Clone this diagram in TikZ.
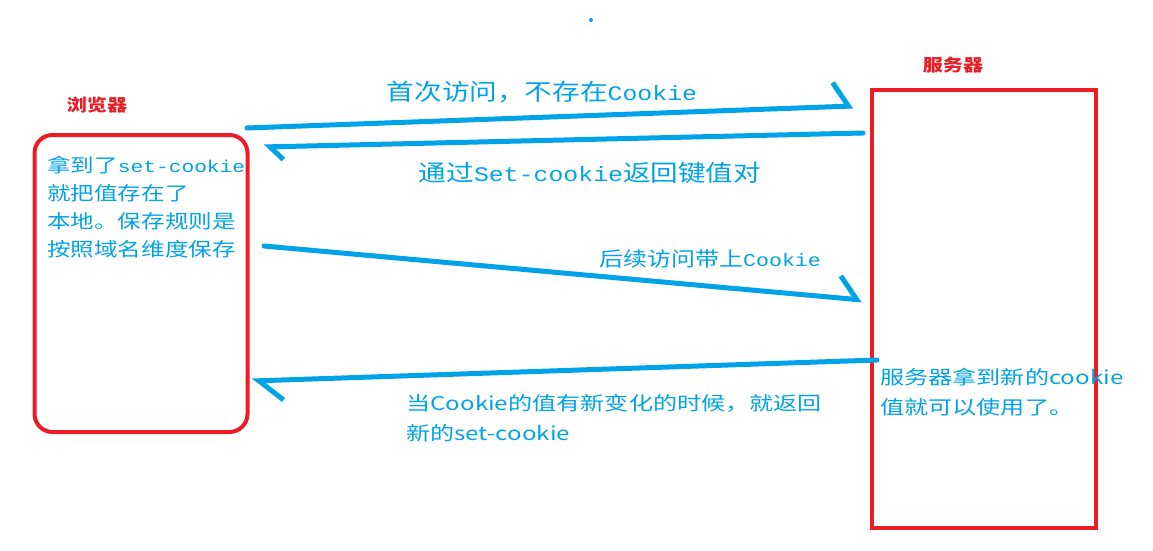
\documentclass[tikz,border=0pt]{standalone}
\usepackage{fontspec}
\newfontfamily\cjk{Noto Sans CJK SC}
\newfontfamily\mono[Scale=0.9]{Liberation Mono}
\usetikzlibrary{arrows.meta}
\definecolor{paintblue}{RGB}{0,162,232}
\definecolor{paintred}{RGB}{237,28,36}

\begin{document}
\begin{tikzpicture}[x=1pt,y=-1pt,
	note/.style={text=paintblue,inner sep=0pt,align=left},
	boxnote/.style={note,font=\cjk\fontsize{19}{28}\selectfont,xscale=1.24,anchor=north west},
	bignote/.style={note,font=\cjk\fontsize{23}{28}\selectfont,xscale=1.2},
	midnote/.style={note,font=\cjk\fontsize{20}{28}\selectfont,xscale=1.2},
	lownote/.style={note,font=\cjk\fontsize{19}{30}\selectfont,xscale=1.27,anchor=north west},
	tag/.style={text=paintred,font=\cjk\bfseries\fontsize{17}{18}\selectfont,xscale=1.18,inner sep=0pt},
	box/.style={draw=paintred,line width=4pt,inner sep=0pt},
	wire/.style={paintblue,line width=5pt,line cap=round}]
	\useasboundingbox (0,0) rectangle (1153,551);
	\fill[paintblue] (591,20) circle (2);
	\node[tag] (browsertag) at (97,105) {浏览器};
	\node[tag] (servertag) at (953,65) {服务器};
	\node[box,rounded corners=18pt,minimum width=213pt,minimum height=297pt] (browser) at (141,283.5) {};
	\node[box,minimum width=224pt,minimum height=438pt] (server) at (983.5,308.5) {};
	\node[boxnote] (stored) at (47,156) {拿到了{\mono set-cookie}\\就把值存在了\\本地。保存规则是\\按照域名维度保存};
	\coordinate (a1) at (247,128);
	\coordinate (b1) at (853,106);
	\coordinate (b2) at (863,133);
	\coordinate (a2) at (264,147);
	\coordinate (a3) at (264,246);
	\coordinate (b3) at (862,300);
	\coordinate (b4) at (877,360);
	\coordinate (a4) at (252,381);
	\draw[wire,-{Straight Barb[left,length=15pt,width=48pt]}] (a1) -- (b1);
	\draw[wire,-{Straight Barb[left,length=13pt,width=26pt]}] (b2) -- (a2);
	\draw[wire,-{Straight Barb[left,length=18pt,width=44pt]}] (a3) -- (b3);
	\draw[wire,-{Straight Barb[left,length=24pt,width=40pt]}] (b4) -- (a4);
	\node[bignote] (first) at (542,92) {首次访问，不存在{\mono Cookie}};
	\node[bignote] (setback) at (590,173) {通过{\mono Set-cookie}返回键值对};
	\node[midnote] (later) at (710,259) {后续访问带上{\mono Cookie}};
	\node[lownote] (renew) at (406,394) {当Cookie的值有新变化的时候，就返回\\新的set-cookie};
	\node[lownote] (useit) at (880,368) {服务器拿到新的cookie\\值就可以使用了。};
\end{tikzpicture}
\end{document}
